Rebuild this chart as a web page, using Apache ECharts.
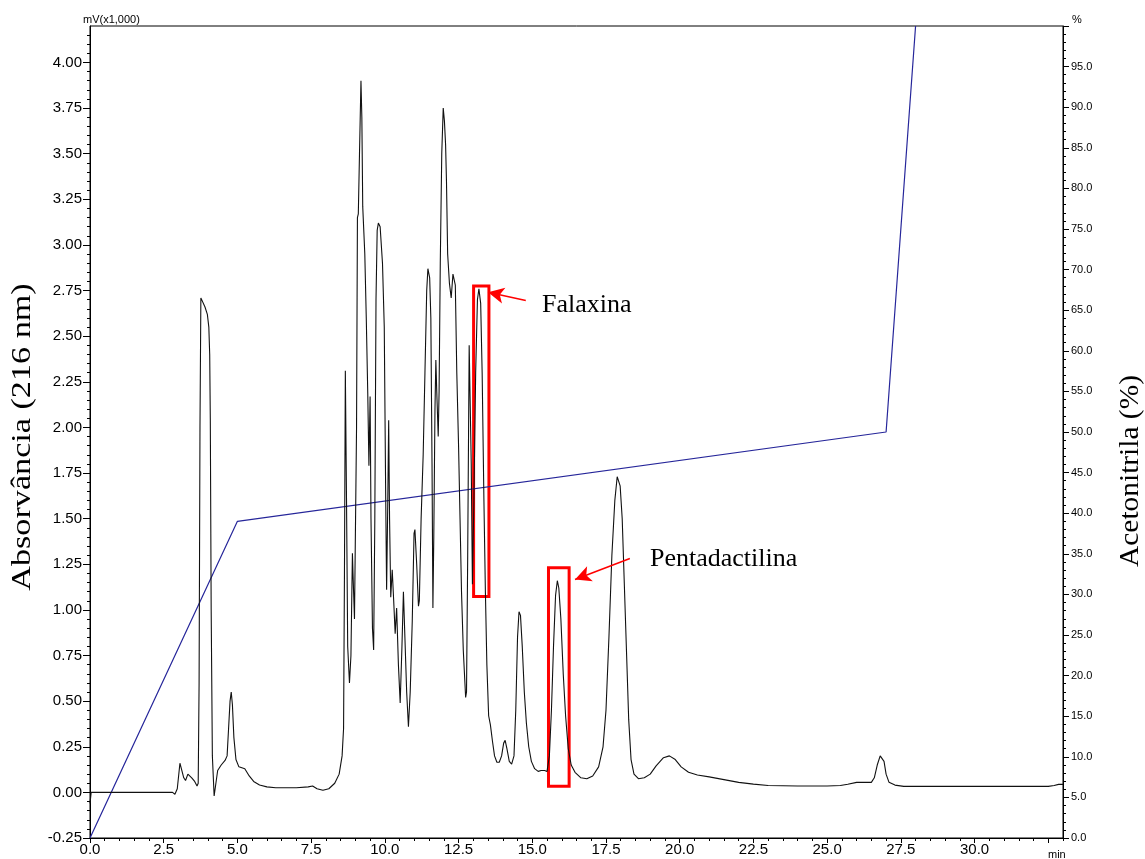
<!DOCTYPE html>
<html>
<head>
<meta charset="utf-8">
<title>Cromatograma</title>
<script src="https://cdn.jsdelivr.net/npm/echarts@6/dist/echarts.min.js"></script>
<style>
  html, body { margin: 0; padding: 0; background: #fff; }
  #chart { width: 1145px; height: 859px; }
</style>
</head>
<body>
<div id="chart"></div>
<script>
// tempo de retenção (min)
const timeMin = [
  0.00, 0.04, 2.80, 2.88, 2.96, 3.05, 3.10, 3.18, 3.24, 3.32,
  3.37, 3.45, 3.55, 3.63, 3.67, 3.70, 3.73, 3.76, 3.82, 3.90,
  3.98, 4.03, 4.06, 4.08, 4.11, 4.15, 4.21, 4.27, 4.33, 4.45,
  4.58, 4.65, 4.70, 4.75, 4.79, 4.83, 4.88, 4.95, 5.05, 5.25,
  5.40, 5.55, 5.75, 6.00, 6.30, 7.00, 7.40, 7.55, 7.70, 7.90,
  8.10, 8.30, 8.45, 8.55, 8.60, 8.63, 8.66, 8.70, 8.74, 8.80,
  8.85, 8.90, 8.92, 8.97, 9.00, 9.04, 9.07, 9.10, 9.14, 9.19,
  9.22, 9.25, 9.32, 9.37, 9.42, 9.46, 9.48, 9.50, 9.53, 9.58,
  9.62, 9.66, 9.70, 9.74, 9.78, 9.84, 9.92, 9.98, 10.03, 10.06,
  10.10, 10.13, 10.16, 10.20, 10.25, 10.30, 10.35, 10.40, 10.46, 10.52,
  10.58, 10.63, 10.68, 10.74, 10.80, 10.86, 10.93, 10.99, 11.02, 11.08,
  11.14, 11.17, 11.23, 11.30, 11.36, 11.42, 11.46, 11.52, 11.56, 11.60,
  11.63, 11.66, 11.70, 11.73, 11.76, 11.81, 11.84, 11.88, 11.93, 11.98,
  12.02, 12.06, 12.09, 12.13, 12.19, 12.25, 12.31, 12.35, 12.39, 12.44,
  12.50, 12.55, 12.60, 12.66, 12.74, 12.77, 12.81, 12.86, 12.88, 12.93,
  12.97, 13.02, 13.08, 13.14, 13.19, 13.25, 13.30, 13.36, 13.41, 13.46,
  13.52, 13.58, 13.65, 13.72, 13.80, 13.88, 13.96, 14.03, 14.08, 14.14,
  14.22, 14.30, 14.38, 14.44, 14.50, 14.55, 14.60, 14.66, 14.73, 14.80,
  14.88, 14.97, 15.08, 15.20, 15.30, 15.36, 15.42, 15.50, 15.58, 15.65,
  15.72, 15.79, 15.85, 15.90, 15.97, 16.05, 16.13, 16.22, 16.32, 16.45,
  16.65, 16.85, 17.05, 17.25, 17.40, 17.50, 17.60, 17.70, 17.80, 17.88,
  17.93, 17.98, 18.05, 18.12, 18.20, 18.27, 18.35, 18.45, 18.60, 18.80,
  19.00, 19.20, 19.45, 19.65, 19.85, 20.05, 20.30, 20.60, 21.00, 21.50,
  22.00, 22.50, 23.00, 24.00, 25.00, 25.45, 25.70, 26.00, 26.50, 26.60,
  26.70, 26.80, 26.86, 26.93, 27.00, 27.10, 27.30, 27.60, 32.50, 32.70,
  32.85, 33.00
];
// absorvância, mV (x1,000)
const absorbance = [
  -0.06, 0.00, 0.00, -0.01, 0.02, 0.16, 0.15, 0.08, 0.065, 0.10,
  0.11, 0.08, 0.06, 0.035, 0.05, 0.60, 2.00, 2.71, 2.70, 2.66,
  2.62, 2.55, 2.40, 2.05, 1.00, 0.20, -0.02, 0.05, 0.12, 0.15,
  0.175, 0.20, 0.35, 0.50, 0.55, 0.48, 0.30, 0.18, 0.14, 0.13,
  0.09, 0.06, 0.04, 0.03, 0.025, 0.025, 0.03, 0.035, 0.02, 0.012,
  0.02, 0.05, 0.10, 0.20, 0.35, 1.20, 2.31, 1.60, 0.80, 0.60,
  0.75, 1.31, 1.20, 0.95, 0.94, 2.00, 3.15, 3.17, 3.50, 3.90,
  3.70, 3.21, 2.95, 2.60, 2.19, 1.79, 1.80, 2.17, 1.50, 0.90,
  0.78, 1.50, 2.70, 3.08, 3.12, 3.10, 2.90, 2.55, 1.60, 1.11,
  1.60, 2.04, 1.50, 1.07, 1.22, 1.05, 0.87, 1.01, 0.70, 0.49,
  0.80, 1.10, 0.85, 0.55, 0.36, 0.55, 0.94, 1.42, 1.44, 1.25,
  1.02, 1.05, 1.50, 1.85, 2.30, 2.75, 2.87, 2.82, 2.60, 1.80,
  1.01, 1.40, 2.10, 2.37, 2.20, 1.95, 2.20, 2.90, 3.50, 3.75,
  3.68, 3.55, 3.35, 2.95, 2.79, 2.71, 2.84, 2.85, 2.78, 2.30,
  1.90, 1.50, 1.10, 0.78, 0.52, 0.55, 1.30, 2.45, 2.44, 1.80,
  1.14, 1.60, 2.30, 2.70, 2.76, 2.68, 2.30, 1.60, 1.10, 0.70,
  0.42, 0.37, 0.28, 0.20, 0.165, 0.165, 0.20, 0.27, 0.285, 0.24,
  0.17, 0.155, 0.20, 0.45, 0.85, 0.99, 0.97, 0.80, 0.55, 0.38,
  0.25, 0.17, 0.13, 0.115, 0.12, 0.13, 0.12, 0.115, 0.20, 0.45,
  0.80, 1.08, 1.16, 1.12, 0.95, 0.65, 0.42, 0.24, 0.15, 0.11,
  0.08, 0.075, 0.09, 0.14, 0.25, 0.45, 0.85, 1.30, 1.60, 1.73,
  1.74, 1.68, 1.50, 1.15, 0.75, 0.40, 0.18, 0.10, 0.075, 0.08,
  0.10, 0.145, 0.19, 0.20, 0.18, 0.14, 0.11, 0.095, 0.085, 0.07,
  0.055, 0.045, 0.038, 0.035, 0.035, 0.038, 0.045, 0.055, 0.055, 0.08,
  0.15, 0.20, 0.21, 0.17, 0.10, 0.055, 0.04, 0.033, 0.033, 0.038,
  0.044, 0.044
];
// gradiente de acetonitrila (%)
const gradTime = [0, 5, 27, 28];
const gradPct = [0, 39, 50, 100];

// rótulos dos eixos
const timeTicks = [0, 2.5, 5, 7.5, 10, 12.5, 15, 17.5, 20, 22.5, 25, 27.5, 30];
const absTicks = [-0.25, 0, 0.25, 0.5, 0.75, 1, 1.25, 1.5, 1.75, 2, 2.25, 2.5, 2.75, 3, 3.25, 3.5, 3.75, 4];
const pctTicks = [0, 5, 10, 15, 20, 25, 30, 35, 40, 45, 50, 55, 60, 65, 70, 75, 80, 85, 90, 95];

// marcações (Falaxina / Pentadactilina)
const boxes = [
  [[13.01, 2.775], [13.53, 1.074]],
  [[15.55, 1.231], [16.25, 0.033]]
];
const arrows = [
  [[14.78, 2.696], [13.50, 2.741]],
  [[18.31, 1.282], [16.45, 1.167]]
];

// ticks menores
function minorTicks(from, to, step, major) {
  const out = [];
  const n = Math.round((to - from) / step);
  for (let i = 0; i <= n; i++) {
    const v = +(from + i * step).toFixed(4);
    if (!major.some(m => Math.abs(m - v) < 1e-6)) out.push(v);
  }
  return out;
}
const timeMajor = timeTicks.concat([32.5]);
const pctMajor = pctTicks.concat([100]);
const timeMinor = minorTicks(0, 33, 0.5, timeMajor);
const absMinor = minorTicks(-0.25, 4.15, 0.05, absTicks);
const pctMinor = minorTicks(0, 99, 1, pctMajor);

const sans = '"Liberation Sans", Arial, sans-serif';
const serif = '"Liberation Serif", "Times New Roman", serif';
const black = '#000';

function minorAxis(pos, min, max, ticks) {
  return {
    type: 'value', position: pos, min: min, max: max,
    axisLine: { show: false, onZero: false },
    axisTick: { show: true, length: 3, customValues: ticks, lineStyle: { color: black } },
    axisLabel: { show: false },
    splitLine: { show: false }
  };
}

let chart = echarts.init(document.getElementById('chart'));
let option = {
  animation: false,
  backgroundColor: '#fff',
  grid: {
    left: 90, right: 82, top: 26, bottom: 21,
    show: true, borderColor: black, borderWidth: 1, backgroundColor: 'transparent'
  },
  xAxis: [{
    type: 'value', position: 'bottom', min: 0, max: 33,
    axisLine: { show: true, onZero: false, lineStyle: { color: black, width: 1 } },
    axisTick: { show: true, length: 5, customValues: timeMajor, lineStyle: { color: black } },
    axisLabel: {
      customValues: timeTicks, formatter: v => v.toFixed(1),
      color: black, fontSize: 15, fontFamily: sans, margin: 4
    },
    splitLine: { show: false }
  }, minorAxis('bottom', 0, 33, timeMinor)],
  yAxis: [{
    type: 'value', position: 'left', min: -0.25, max: 4.2,
    axisLine: { show: true, onZero: false, lineStyle: { color: black, width: 1 } },
    axisTick: { show: true, length: 7, customValues: absTicks, lineStyle: { color: black } },
    axisLabel: {
      customValues: absTicks, formatter: v => v.toFixed(2),
      color: black, fontSize: 15, fontFamily: sans, margin: 8
    },
    splitLine: { show: false }
  }, {
    type: 'value', position: 'right', min: 0, max: 100,
    axisLine: { show: true, onZero: false, lineStyle: { color: black, width: 1 } },
    axisTick: { show: true, length: 6, customValues: pctMajor, lineStyle: { color: black } },
    axisLabel: {
      customValues: pctTicks, formatter: v => v.toFixed(1),
      color: black, fontSize: 11, fontFamily: sans, margin: 8
    },
    splitLine: { show: false }
  },
  minorAxis('left', -0.25, 4.2, absMinor),
  minorAxis('right', 0, 100, pctMinor)],
  series: [{
    name: 'Acetonitrila',
    type: 'line',
    xAxisIndex: 0, yAxisIndex: 1,
    data: gradTime.map((t, i) => [t, gradPct[i]]),
    showSymbol: false, silent: true, z: 2,
    lineStyle: { color: '#26269a', width: 1.2 }
  }, {
    name: 'Absorvância',
    type: 'line',
    xAxisIndex: 0, yAxisIndex: 0,
    data: timeMin.map((t, i) => [t, absorbance[i]]),
    showSymbol: false, silent: true, z: 3,
    lineStyle: { color: '#111', width: 1.1 },
    markArea: {
      silent: true,
      label: { show: false },
      itemStyle: { color: 'rgba(0,0,0,0)', borderColor: '#f00', borderWidth: 3 },
      data: boxes.map(b => [{ coord: b[0] }, { coord: b[1] }])
    },
    markLine: {
      silent: true,
      symbol: ['none', 'arrow'],
      symbolSize: [12, 16],
      label: { show: false },
      lineStyle: { color: '#f00', width: 1.5, type: 'solid' },
      data: arrows.map(a => [{ coord: a[0] }, { coord: a[1] }])
    }
  }],
  graphic: [
    { type: 'text', x: 83, y: 20, style: { text: 'mV(x1,000)', fill: black, font: '11px ' + sans, verticalAlign: 'middle' } },
    { type: 'text', x: 1072, y: 20, style: { text: '%', fill: black, font: '11px ' + sans, verticalAlign: 'middle' } },
    { type: 'text', x: 1048, y: 855, style: { text: 'min', fill: black, font: '11px ' + sans, verticalAlign: 'middle' } },
    { type: 'text', x: 23, y: 437, rotation: Math.PI / 2, scaleX: 1.22,
      style: { text: 'Absorvância (216 nm)', fill: black, font: '28px ' + serif, align: 'center', verticalAlign: 'middle' } },
    { type: 'text', x: 1131, y: 471, rotation: Math.PI / 2, scaleX: 1.05,
      style: { text: 'Acetonitrila (%)', fill: black, font: '28px ' + serif, align: 'center', verticalAlign: 'middle' } },
    { type: 'text', x: 542, y: 305, style: { text: 'Falaxina', fill: black, font: '26px ' + serif, verticalAlign: 'middle' } },
    { type: 'text', x: 650, y: 559, style: { text: 'Pentadactilina', fill: black, font: '26px ' + serif, verticalAlign: 'middle' } }
  ]
};
chart.setOption(option);
</script>
</body>
</html>
